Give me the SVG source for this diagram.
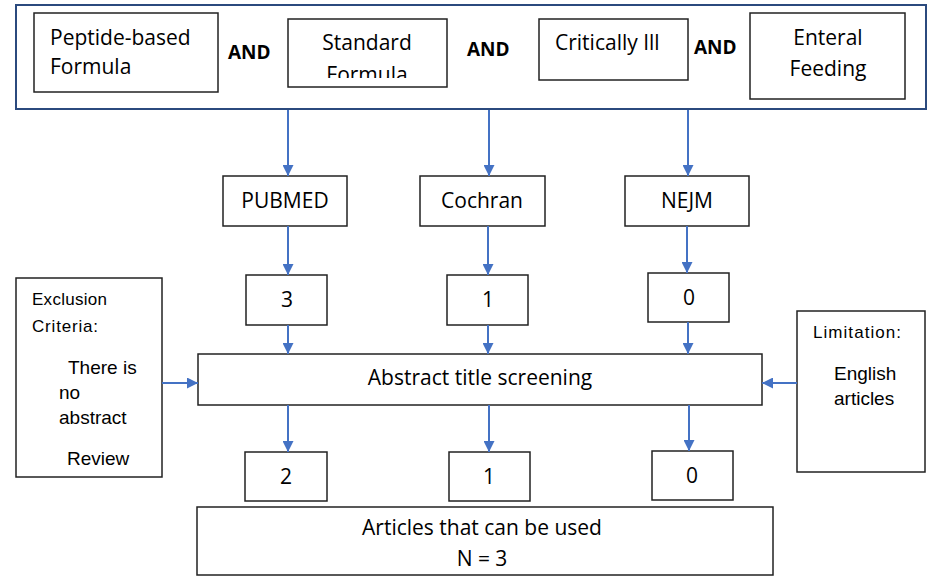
<svg xmlns="http://www.w3.org/2000/svg" width="930" height="577" viewBox="0 0 930 577">
<style>
.box{fill:#fff;stroke:#222;stroke-width:1.5}
.outer{fill:#fff;stroke:#2b4a7e;stroke-width:2}
.t{font-family:"Open Sans","Liberation Sans",sans-serif;font-size:21px;fill:#000}
.c{text-anchor:middle}
.and{font-family:"Open Sans","Liberation Sans",sans-serif;font-size:19px;font-weight:bold;fill:#000}
.a{font-family:"Liberation Sans",Arial,sans-serif;font-size:19px;fill:#000}
.s{font-family:"Liberation Sans",Arial,sans-serif;font-size:17px;fill:#000}
.conn line{stroke:#4472c4;stroke-width:2;marker-end:url(#ah)}
</style>
<defs>
<marker id="ah" viewBox="0 0 10 10" refX="10" refY="5" markerWidth="5.5" markerHeight="5.5" orient="auto" markerUnits="strokeWidth">
<path d="M0,0 L10,5 L0,10 z" fill="#4472c4"/>
</marker>
<clipPath id="stdclip"><rect x="288" y="19" width="159" height="59"/></clipPath>
</defs>
<rect width="930" height="577" fill="#fff"/>

<g id="search-terms">
<rect class="outer" x="16" y="5" width="910" height="104"/>
</g>
<g id="peptide">
<rect class="box" x="34" y="13" width="184" height="79"/>
<text class="t" x="50" y="45">Peptide-based</text>
<text class="t" x="50" y="74">Formula</text>
</g>
<text class="and" x="228" y="59">AND</text>
<g id="standard">
<rect class="box" x="288" y="19" width="159" height="68"/>
<text class="t c" x="367" y="50">Standard</text>
<text class="t c" x="367" y="82" clip-path="url(#stdclip)">Formula</text>
</g>
<text class="and" x="467" y="56">AND</text>
<g id="critically">
<rect class="box" x="539" y="19" width="149" height="61"/>
<text class="t" x="555" y="50">Critically Ill</text>
</g>
<text class="and" x="694" y="54">AND</text>
<g id="enteral">
<rect class="box" x="750" y="13" width="155" height="86"/>
<text class="t c" x="828" y="45">Enteral</text>
<text class="t c" x="828" y="76">Feeding</text>
</g>

<g id="pubmed"><rect class="box" x="223" y="176" width="124" height="50"/><text class="t c" x="285" y="208">PUBMED</text></g>
<g id="cochran"><rect class="box" x="420" y="176" width="125" height="50"/><text class="t c" x="482" y="208">Cochran</text></g>
<g id="nejm"><rect class="box" x="625" y="176" width="124" height="50"/><text class="t c" x="687" y="208">NEJM</text></g>

<g id="n-pubmed"><rect class="box" x="246" y="275" width="81" height="50"/><text class="t c" x="287" y="307">3</text></g>
<g id="n-cochran"><rect class="box" x="447" y="275" width="81" height="50"/><text class="t c" x="488" y="307">1</text></g>
<g id="n-nejm"><rect class="box" x="648" y="273" width="81" height="49"/><text class="t c" x="689" y="305">0</text></g>

<g id="exclusion">
<rect class="box" x="16" y="278" width="146" height="199"/>
<text class="s" x="32" y="305" textLength="75" lengthAdjust="spacing">Exclusion</text>
<text class="s" x="32" y="332" textLength="66" lengthAdjust="spacing">Criteria:</text>
<text class="a" x="68" y="374">There is</text>
<text class="a" x="59" y="399">no</text>
<text class="a" x="59" y="424">abstract</text>
<text class="a" x="67" y="465">Review</text>
</g>

<g id="screening">
<rect class="box" x="198" y="354" width="564" height="51"/>
<text class="t c" x="480" y="385">Abstract title screening</text>
</g>

<g id="limitation">
<rect class="box" x="797" y="311" width="128" height="161"/>
<text class="s" x="813" y="338" textLength="88" lengthAdjust="spacing">Limitation:</text>
<text class="a" x="834" y="380">English</text>
<text class="a" x="834" y="405">articles</text>
</g>

<g id="s-pubmed"><rect class="box" x="245" y="452" width="82" height="49"/><text class="t c" x="286" y="484">2</text></g>
<g id="s-cochran"><rect class="box" x="449" y="452" width="81" height="49"/><text class="t c" x="489" y="484">1</text></g>
<g id="s-nejm"><rect class="box" x="652" y="451" width="81" height="49"/><text class="t c" x="692" y="483">0</text></g>

<g id="result">
<rect class="box" x="197" y="507" width="576" height="68"/>
<text class="t c" x="482" y="535">Articles that can be used</text>
<text class="t c" x="482" y="566">N = 3</text>
</g>

<g class="conn" id="connectors">
<line x1="288" y1="110" x2="288" y2="176"/>
<line x1="489" y1="110" x2="489" y2="176"/>
<line x1="688" y1="110" x2="688" y2="176"/>
<line x1="288" y1="226" x2="288" y2="275"/>
<line x1="488" y1="226" x2="488" y2="275"/>
<line x1="687" y1="226" x2="687" y2="273"/>
<line x1="288" y1="325" x2="288" y2="354"/>
<line x1="488" y1="325" x2="488" y2="354"/>
<line x1="688" y1="322" x2="688" y2="354"/>
<line x1="288" y1="405" x2="288" y2="452"/>
<line x1="489" y1="405" x2="489" y2="452"/>
<line x1="689" y1="405" x2="689" y2="451"/>
<line x1="162" y1="383" x2="198" y2="383"/>
<line x1="797" y1="383" x2="762" y2="383"/>
</g>
</svg>
